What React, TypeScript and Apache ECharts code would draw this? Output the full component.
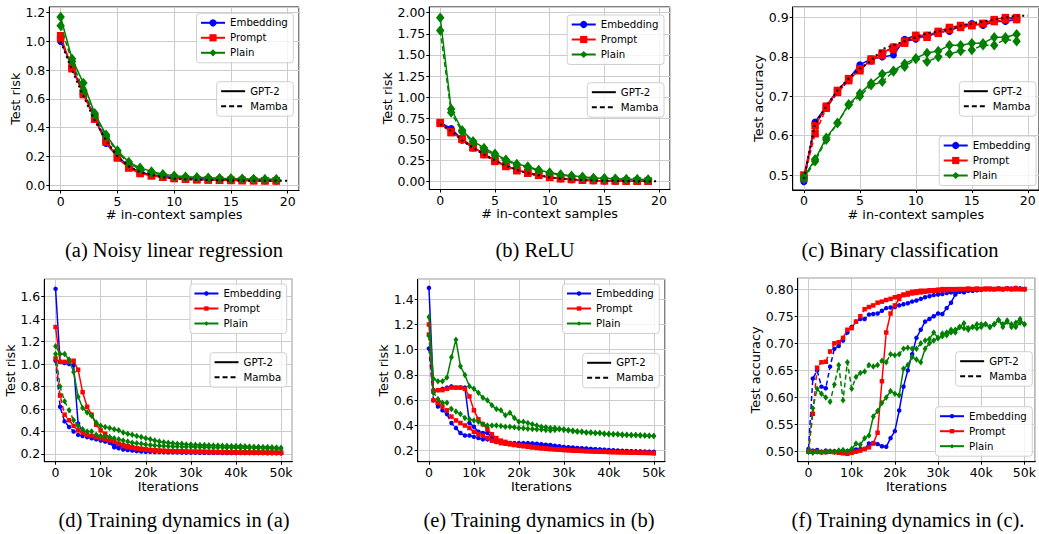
import React, { useEffect, useRef } from "react";
import * as echarts from "echarts";

// ---------- data ----------
const SAMPLES = [0, 1, 2, 3, 4, 5, 6, 7, 8, 9, 10, 11, 12, 13, 14, 15, 16, 17, 18, 19];
const SAMPLES_BASE = [0, 1, 2, 3, 4, 5, 6, 7, 8, 9, 10, 11, 12, 13, 14, 15, 16, 17, 18, 19, 20];
const ITERS_K = [
  0, 1, 2, 3, 4, 5, 6, 7, 8, 9, 10, 11, 12, 13, 14, 15, 16, 17, 18, 19, 20, 21, 22, 23, 24, 25,
  26, 27, 28, 29, 30, 31, 32, 33, 34, 35, 36, 37, 38, 39, 40, 41, 42, 43, 44, 45, 46, 47, 48, 49, 50,
];

// (a) Noisy linear regression
const A_EMB_GPT = [1.01, 0.82, 0.64, 0.47, 0.29, 0.2, 0.13, 0.09, 0.07, 0.06, 0.05, 0.045, 0.04, 0.04, 0.035, 0.035, 0.033, 0.032, 0.031, 0.03];
const A_EMB_MAM = [1.0, 0.83, 0.65, 0.48, 0.31, 0.2, 0.13, 0.09, 0.07, 0.06, 0.05, 0.045, 0.042, 0.04, 0.037, 0.035, 0.034, 0.033, 0.032, 0.031];
const A_PRM_GPT = [1.04, 0.81, 0.64, 0.46, 0.3, 0.19, 0.12, 0.08, 0.065, 0.055, 0.045, 0.04, 0.037, 0.035, 0.033, 0.032, 0.031, 0.03, 0.03, 0.029];
const A_PRM_MAM = [1.02, 0.82, 0.63, 0.46, 0.31, 0.19, 0.12, 0.085, 0.065, 0.055, 0.047, 0.042, 0.038, 0.036, 0.034, 0.033, 0.032, 0.031, 0.03, 0.03];
const A_PLN_GPT = [1.17, 0.88, 0.71, 0.5, 0.35, 0.24, 0.16, 0.12, 0.095, 0.075, 0.065, 0.058, 0.055, 0.05, 0.047, 0.045, 0.043, 0.042, 0.041, 0.04];
const A_PLN_MAM = [1.11, 0.86, 0.66, 0.49, 0.34, 0.23, 0.15, 0.11, 0.085, 0.07, 0.06, 0.055, 0.05, 0.048, 0.045, 0.043, 0.042, 0.04, 0.039, 0.038];
const A_BASE = [1.0, 0.8, 0.62, 0.45, 0.31, 0.2, 0.13, 0.09, 0.07, 0.055, 0.045, 0.04, 0.037, 0.035, 0.033, 0.032, 0.031, 0.03, 0.03, 0.03, 0.03];

// (b) ReLU
const B_EMB_GPT = [0.7, 0.63, 0.5, 0.41, 0.33, 0.25, 0.19, 0.14, 0.1, 0.075, 0.05, 0.035, 0.025, 0.018, 0.013, 0.01, 0.008, 0.007, 0.006, 0.005];
const B_EMB_MAM = [0.69, 0.62, 0.49, 0.4, 0.32, 0.25, 0.19, 0.14, 0.1, 0.073, 0.05, 0.036, 0.026, 0.019, 0.014, 0.011, 0.009, 0.008, 0.007, 0.006];
const B_PRM_GPT = [0.7, 0.58, 0.51, 0.41, 0.33, 0.25, 0.19, 0.14, 0.11, 0.08, 0.055, 0.038, 0.028, 0.02, 0.015, 0.012, 0.01, 0.008, 0.007, 0.006];
const B_PRM_MAM = [0.69, 0.59, 0.5, 0.4, 0.32, 0.24, 0.18, 0.13, 0.1, 0.075, 0.052, 0.037, 0.027, 0.02, 0.015, 0.012, 0.01, 0.008, 0.007, 0.006];
const B_PLN_GPT = [1.94, 0.86, 0.61, 0.48, 0.4, 0.33, 0.26, 0.21, 0.18, 0.14, 0.11, 0.085, 0.07, 0.06, 0.045, 0.04, 0.035, 0.03, 0.028, 0.025];
const B_PLN_MAM = [1.79, 0.82, 0.59, 0.47, 0.38, 0.31, 0.25, 0.2, 0.17, 0.13, 0.1, 0.08, 0.065, 0.05, 0.042, 0.037, 0.032, 0.028, 0.025, 0.022];
const B_BASE = [0.68, 0.6, 0.49, 0.4, 0.32, 0.25, 0.19, 0.14, 0.1, 0.075, 0.05, 0.037, 0.027, 0.02, 0.015, 0.012, 0.01, 0.008, 0.007, 0.006, 0.005];

// (c) Binary classification
const C_EMB_GPT = [0.483, 0.635, 0.675, 0.715, 0.745, 0.78, 0.795, 0.8, 0.805, 0.845, 0.855, 0.85, 0.865, 0.865, 0.88, 0.885, 0.88, 0.89, 0.89, 0.895];
const C_EMB_MAM = [0.49, 0.63, 0.67, 0.71, 0.74, 0.775, 0.79, 0.81, 0.825, 0.84, 0.845, 0.855, 0.86, 0.87, 0.875, 0.88, 0.885, 0.895, 0.895, 0.9];
const C_PRM_GPT = [0.5, 0.625, 0.675, 0.715, 0.745, 0.765, 0.795, 0.81, 0.825, 0.84, 0.855, 0.855, 0.865, 0.875, 0.88, 0.88, 0.885, 0.895, 0.9, 0.9];
const C_PRM_MAM = [0.492, 0.605, 0.67, 0.71, 0.74, 0.77, 0.79, 0.805, 0.82, 0.835, 0.85, 0.85, 0.86, 0.87, 0.875, 0.88, 0.885, 0.89, 0.895, 0.895];
const C_PLN_GPT = [0.495, 0.54, 0.595, 0.632, 0.68, 0.707, 0.733, 0.757, 0.765, 0.783, 0.797, 0.81, 0.815, 0.83, 0.83, 0.835, 0.835, 0.85, 0.85, 0.858];
const C_PLN_MAM = [0.49, 0.535, 0.59, 0.632, 0.678, 0.7, 0.728, 0.737, 0.763, 0.775, 0.795, 0.788, 0.8, 0.808, 0.815, 0.818, 0.83, 0.83, 0.845, 0.84];
const C_BASE = [0.49, 0.63, 0.675, 0.715, 0.745, 0.77, 0.79, 0.82, 0.83, 0.84, 0.85, 0.86, 0.865, 0.87, 0.88, 0.885, 0.89, 0.895, 0.9, 0.905, 0.905];

// (d) Training dynamics in (a)
const D_EMB_GPT = [
  1.67, 1.02, 1.01, 1.0, 0.99, 0.47, 0.4, 0.37, 0.35, 0.34,
  0.33, 0.32, 0.31, 0.28, 0.27, 0.26, 0.25, 0.245, 0.24, 0.235,
  0.23, 0.228, 0.226, 0.225, 0.223, 0.222, 0.221, 0.22, 0.219, 0.218,
  0.217, 0.217, 0.216, 0.216, 0.215, 0.215, 0.214, 0.214, 0.213, 0.213,
  0.212, 0.212, 0.212, 0.211, 0.211, 0.211, 0.21, 0.21, 0.21, 0.21, 0.209,
];
const D_EMB_MAM = [
  1.03, 0.62, 0.49, 0.44, 0.4, 0.37, 0.36, 0.35, 0.34, 0.33,
  0.32, 0.31, 0.3, 0.26, 0.25, 0.24, 0.235, 0.23, 0.225, 0.222,
  0.22, 0.219, 0.218, 0.217, 0.216, 0.215, 0.215, 0.214, 0.213, 0.213,
  0.212, 0.212, 0.211, 0.211, 0.21, 0.21, 0.21, 0.209, 0.209, 0.209,
  0.208, 0.208, 0.208, 0.207, 0.207, 0.207, 0.207, 0.206, 0.206, 0.206, 0.206,
];
const D_PRM_GPT = [
  1.33, 1.02, 1.02, 1.02, 1.03, 0.95, 0.75, 0.62, 0.55, 0.46,
  0.41, 0.38, 0.34, 0.31, 0.29, 0.28, 0.27, 0.26, 0.25, 0.245,
  0.24, 0.235, 0.23, 0.228, 0.226, 0.225, 0.224, 0.222, 0.221, 0.22,
  0.219, 0.218, 0.218, 0.217, 0.216, 0.216, 0.215, 0.215, 0.214, 0.214,
  0.213, 0.213, 0.213, 0.212, 0.212, 0.212, 0.211, 0.211, 0.211, 0.21, 0.21,
];
const D_PRM_MAM = [
  1.05, 0.72, 0.55, 0.5, 0.45, 0.41, 0.39, 0.37, 0.36, 0.35,
  0.34, 0.33, 0.32, 0.31, 0.29, 0.27, 0.26, 0.255, 0.25, 0.245,
  0.24, 0.235, 0.232, 0.23, 0.228, 0.226, 0.225, 0.224, 0.223, 0.222,
  0.221, 0.22, 0.22, 0.219, 0.218, 0.218, 0.217, 0.217, 0.216, 0.216,
  0.215, 0.215, 0.214, 0.214, 0.214, 0.213, 0.213, 0.213, 0.212, 0.212, 0.212,
];
const D_PLN_GPT = [
  1.16, 1.09, 1.09, 1.04, 0.93, 0.71, 0.61, 0.57, 0.54, 0.48,
  0.45, 0.44, 0.43, 0.42, 0.41, 0.39, 0.38, 0.37, 0.36, 0.35,
  0.34, 0.33, 0.32, 0.31, 0.305, 0.3, 0.295, 0.29, 0.29, 0.285,
  0.285, 0.283, 0.28, 0.28, 0.278, 0.276, 0.275, 0.274, 0.272, 0.271,
  0.27, 0.27, 0.268, 0.266, 0.265, 0.264, 0.262, 0.261, 0.26, 0.258, 0.256,
];
const D_PLN_MAM = [
  1.09, 0.8, 0.67, 0.59, 0.5, 0.45, 0.42, 0.4, 0.4, 0.37,
  0.36, 0.36, 0.35, 0.34, 0.33, 0.32, 0.31, 0.3, 0.295, 0.29,
  0.285, 0.28, 0.275, 0.272, 0.27, 0.268, 0.267, 0.266, 0.265, 0.264,
  0.263, 0.262, 0.261, 0.26, 0.259, 0.258, 0.258, 0.257, 0.256, 0.256,
  0.255, 0.254, 0.253, 0.252, 0.252, 0.251, 0.25, 0.249, 0.248, 0.247, 0.246,
];

// (e) Training dynamics in (b)
const E_EMB_GPT = [
  1.49, 0.68, 0.68, 0.69, 0.7, 0.71, 0.7, 0.7, 0.7, 0.42,
  0.39, 0.35, 0.34, 0.34, 0.3, 0.28, 0.27, 0.265, 0.26, 0.26,
  0.26, 0.26, 0.26, 0.258, 0.255, 0.252, 0.248, 0.245, 0.24, 0.235,
  0.23, 0.228, 0.225, 0.222, 0.22, 0.218, 0.215, 0.212, 0.21, 0.208,
  0.205, 0.203, 0.2, 0.198, 0.196, 0.195, 0.193, 0.192, 0.19, 0.19, 0.188,
];
const E_EMB_MAM = [
  1.01, 0.6, 0.55, 0.52, 0.49, 0.42, 0.38, 0.34, 0.32, 0.32,
  0.31, 0.3, 0.29, 0.29, 0.28, 0.27, 0.265, 0.26, 0.26, 0.258,
  0.256, 0.255, 0.254, 0.252, 0.25, 0.246, 0.242, 0.238, 0.234, 0.23,
  0.226, 0.223, 0.22, 0.218, 0.216, 0.214, 0.212, 0.21, 0.208, 0.206,
  0.204, 0.202, 0.2, 0.199, 0.198, 0.196, 0.195, 0.194, 0.193, 0.192, 0.191,
];
const E_PRM_GPT = [
  1.2, 0.67, 0.68, 0.68, 0.69, 0.7, 0.7, 0.7, 0.69, 0.63,
  0.52, 0.45, 0.41, 0.37, 0.33, 0.3, 0.28, 0.27, 0.26, 0.25,
  0.245, 0.24, 0.235, 0.23, 0.226, 0.222, 0.218, 0.215, 0.212, 0.21,
  0.207, 0.205, 0.203, 0.2, 0.199, 0.197, 0.195, 0.194, 0.193, 0.192,
  0.19, 0.189, 0.188, 0.187, 0.186, 0.185, 0.184, 0.183, 0.183, 0.182, 0.18,
];
const E_PRM_MAM = [
  1.12, 0.6, 0.58, 0.55, 0.52, 0.47, 0.44, 0.42, 0.4, 0.38,
  0.35, 0.33, 0.32, 0.3, 0.28, 0.27, 0.26, 0.255, 0.25, 0.245,
  0.24, 0.235, 0.23, 0.226, 0.222, 0.218, 0.215, 0.212, 0.21, 0.208,
  0.205, 0.203, 0.2, 0.199, 0.198, 0.196, 0.195, 0.194, 0.192, 0.191,
  0.19, 0.189, 0.188, 0.187, 0.186, 0.185, 0.185, 0.184, 0.183, 0.183, 0.182,
];
const E_PLN_GPT = [
  1.26, 0.77, 0.75, 0.75, 0.78, 0.94, 1.08, 0.87, 0.8, 0.71,
  0.69, 0.66, 0.62, 0.6, 0.56, 0.53, 0.52, 0.48, 0.5, 0.46,
  0.43, 0.43, 0.42, 0.41, 0.4, 0.39, 0.385, 0.38, 0.38, 0.375,
  0.37, 0.365, 0.36, 0.355, 0.35, 0.345, 0.345, 0.34, 0.34, 0.335,
  0.33, 0.33, 0.33, 0.325, 0.325, 0.323, 0.322, 0.32, 0.32, 0.318, 0.316,
];
const E_PLN_MAM = [
  1.11, 0.66, 0.61, 0.58, 0.58, 0.53, 0.51, 0.49, 0.46, 0.45,
  0.44, 0.43, 0.41, 0.4, 0.4, 0.4, 0.395, 0.39, 0.39, 0.385,
  0.38, 0.378, 0.375, 0.372, 0.37, 0.368, 0.365, 0.36, 0.365, 0.37,
  0.365, 0.36, 0.355, 0.35, 0.35, 0.345, 0.345, 0.34, 0.34, 0.335,
  0.335, 0.33, 0.33, 0.328, 0.326, 0.325, 0.324, 0.322, 0.32, 0.318, 0.316,
];

// (f) Training dynamics in (c)
const F_EMB_GPT = [
  0.5, 0.502, 0.503, 0.5, 0.502, 0.5, 0.501, 0.5, 0.502, 0.501,
  0.503, 0.504, 0.505, 0.505, 0.515, 0.516, 0.514, 0.51, 0.509, 0.525,
  0.538, 0.576, 0.62, 0.65, 0.68, 0.71, 0.725, 0.74, 0.745, 0.75,
  0.755, 0.754, 0.765, 0.775, 0.79, 0.795, 0.794, 0.797, 0.797, 0.798,
  0.799, 0.8, 0.8, 0.8, 0.801, 0.8, 0.801, 0.8, 0.802, 0.801, 0.8,
];
const F_EMB_MAM = [
  0.505, 0.635, 0.65, 0.62, 0.617, 0.657, 0.69, 0.695, 0.705, 0.72,
  0.73, 0.74, 0.745, 0.745, 0.753, 0.754, 0.755, 0.76, 0.765, 0.766,
  0.767, 0.77, 0.772, 0.774, 0.777, 0.779, 0.782, 0.785, 0.787, 0.789,
  0.79, 0.791, 0.793, 0.794, 0.795, 0.797, 0.797, 0.798, 0.798, 0.799,
  0.8, 0.8, 0.8, 0.8, 0.801, 0.8, 0.8, 0.801, 0.8, 0.801, 0.8,
];
const F_PRM_GPT = [
  0.5, 0.5, 0.5, 0.499, 0.499, 0.5, 0.499, 0.498, 0.497, 0.496,
  0.498, 0.5, 0.502, 0.505, 0.508, 0.515, 0.535, 0.63, 0.72, 0.755,
  0.77, 0.782, 0.79, 0.793, 0.795, 0.796, 0.797, 0.797, 0.798, 0.798,
  0.799, 0.8, 0.8, 0.8, 0.8, 0.8, 0.8, 0.801, 0.8, 0.801,
  0.8, 0.801, 0.8, 0.8, 0.801, 0.8, 0.801, 0.8, 0.802, 0.8, 0.8,
];
const F_PRM_MAM = [
  0.5, 0.57, 0.655, 0.665, 0.666, 0.685, 0.7, 0.702, 0.71, 0.725,
  0.728, 0.74, 0.75, 0.763, 0.767, 0.77, 0.775, 0.777, 0.78, 0.782,
  0.785, 0.787, 0.789, 0.79, 0.792, 0.793, 0.794, 0.795, 0.796, 0.797,
  0.797, 0.798, 0.798, 0.799, 0.799, 0.8, 0.8, 0.8, 0.8, 0.8,
  0.8, 0.8, 0.801, 0.8, 0.8, 0.8, 0.801, 0.8, 0.8, 0.8, 0.8,
];
const F_PLN_GPT = [
  0.5, 0.498, 0.5, 0.499, 0.5, 0.501, 0.5, 0.502, 0.503, 0.501,
  0.505, 0.515, 0.513, 0.525, 0.53, 0.565, 0.575, 0.59, 0.6, 0.612,
  0.607, 0.604, 0.653, 0.66, 0.675, 0.67, 0.665, 0.69, 0.7, 0.705,
  0.71, 0.713, 0.72, 0.725, 0.72, 0.73, 0.728, 0.725, 0.73, 0.728,
  0.73, 0.735, 0.73, 0.735, 0.743, 0.735, 0.742, 0.73, 0.738, 0.745, 0.735,
];
const F_PLN_MAM = [
  0.5, 0.58, 0.616, 0.607, 0.6, 0.592, 0.624, 0.66, 0.595, 0.665,
  0.616, 0.638, 0.645, 0.648, 0.66, 0.657, 0.66, 0.668, 0.665, 0.68,
  0.678, 0.68, 0.69, 0.692, 0.69, 0.69, 0.7, 0.705, 0.708, 0.72,
  0.71, 0.718, 0.715, 0.72, 0.725, 0.73, 0.737, 0.728, 0.73, 0.735,
  0.735, 0.735, 0.73, 0.735, 0.743, 0.73, 0.74, 0.735, 0.73, 0.738, 0.735,
];

const CAPTIONS = [
  "(a) Noisy linear regression",
  "(b) ReLU",
  "(c) Binary classification",
  "(d) Training dynamics in (a)",
  "(e) Training dynamics in (b)",
  "(f) Training dynamics in (c).",
];
const METHOD_NAMES = ["Embedding", "Prompt", "Plain"];
const MODEL_NAMES = ["GPT-2", "Mamba"];

// ---------- layout / styles ----------
const FONT = "DejaVu Sans";
const BLUE = "#0000ff";
const RED = "#ff0000";
const GREEN = "#008000";
const DASH = [5, 3];

type Panel = {
  grid: { left: number; top: number; width: number; height: number };
  x: [number, number, number];
  y: [number, number, number];
  yDigits: number;
  iter: boolean;
  yName: string;
  yGap: number;
  xName: string;
  xGap: number;
  sets: number[][];
  base?: number[];
  legMethods: { right: number; top: number };
  legModels: { right: number; top: number };
  caption: { x: number; y: number };
};

const PANELS: Panel[] = [
  {
    grid: { left: 49.3, top: 7, width: 249.7, height: 183.5 },
    x: [-1, 21, 5], y: [-0.038, 1.24, 0.2], yDigits: 1, iter: false,
    yName: "Test risk", yGap: 26, xName: "# in-context samples", xGap: 14,
    sets: [A_EMB_GPT, A_EMB_MAM, A_PRM_GPT, A_PRM_MAM, A_PLN_GPT, A_PLN_MAM], base: A_BASE,
    legMethods: { right: 745.7, top: 13.3 }, legModels: { right: 745.7, top: 81.7 },
    caption: { x: 174, y: 250 },
  },
  {
    grid: { left: 429.3, top: 7, width: 240.7, height: 182.5 },
    x: [-1, 21, 5], y: [-0.092, 2.067, 0.25], yDigits: 2, iter: false,
    yName: "Test risk", yGap: 35, xName: "# in-context samples", xGap: 14,
    sets: [B_EMB_GPT, B_EMB_MAM, B_PRM_GPT, B_PRM_MAM, B_PLN_GPT, B_PLN_MAM], base: B_BASE,
    legMethods: { right: 375, top: 15 }, legModels: { right: 375, top: 82.7 },
    caption: { x: 535, y: 250 },
  },
  {
    grid: { left: 792.7, top: 7, width: 248.3, height: 183 },
    x: [-1, 21, 5], y: [0.462, 0.927, 0.1], yDigits: 1, iter: false,
    yName: "Test accuracy", yGap: 26, xName: "# in-context samples", xGap: 14,
    sets: [C_EMB_GPT, C_EMB_MAM, C_PRM_GPT, C_PRM_MAM, C_PLN_GPT, C_PLN_MAM], base: C_BASE,
    legMethods: { right: 3, top: 136 }, legModels: { right: 3, top: 81.7 },
    caption: { x: 900, y: 250 },
  },
  {
    grid: { left: 44.3, top: 279.3, width: 248, height: 182.4 },
    x: [-2.5, 52.5, 10], y: [0.131, 1.755, 0.2], yDigits: 1, iter: true,
    yName: "Test risk", yGap: 26, xName: "Iterations", xGap: 15,
    sets: [D_EMB_GPT, D_EMB_MAM, D_PRM_GPT, D_PRM_MAM, D_PLN_GPT, D_PLN_MAM],
    legMethods: { right: 752.3, top: 284 }, legModels: { right: 752.3, top: 352.7 },
    caption: { x: 174, y: 519.5 },
  },
  {
    grid: { left: 417.7, top: 279.3, width: 247.3, height: 182.4 },
    x: [-2.5, 52.5, 10], y: [0.113, 1.558, 0.2], yDigits: 1, iter: true,
    yName: "Test risk", yGap: 27.5, xName: "Iterations", xGap: 15,
    sets: [E_EMB_GPT, E_EMB_MAM, E_PRM_GPT, E_PRM_MAM, E_PLN_GPT, E_PLN_MAM],
    legMethods: { right: 379.7, top: 284 }, legModels: { right: 379.7, top: 353.3 },
    caption: { x: 539, y: 519.5 },
  },
  {
    grid: { left: 797.7, top: 278.3, width: 240, height: 183.4 },
    x: [-2.5, 52.5, 10], y: [0.4815, 0.82, 0.05], yDigits: 2, iter: true,
    yName: "Test accuracy", yGap: 34, xName: "Iterations", xGap: 15,
    sets: [F_EMB_GPT, F_EMB_MAM, F_PRM_GPT, F_PRM_MAM, F_PLN_GPT, F_PLN_MAM],
    legMethods: { right: 6.7, top: 406.7 }, legModels: { right: 6.7, top: 351.7 },
    caption: { x: 908, y: 519.5 },
  },
];

const STYLES = [
  { color: BLUE, symbol: "circle", big: 7, small: 4.5 },
  { color: RED, symbol: "rect", big: 7.5, small: 4.5 },
  { color: GREEN, symbol: "diamond", big: [8.5, 10.5], small: [5, 6.5] },
];

function buildOption() {
  const grid: any[] = [];
  const xAxis: any[] = [];
  const yAxis: any[] = [];
  const series: any[] = [];
  const legend: any[] = [];
  const graphic: any[] = [];

  PANELS.forEach((p, gi) => {
    grid.push({ ...p.grid, show: true, borderColor: "#000", borderWidth: 1, containLabel: false });
    xAxis.push({
      type: "value",
      gridIndex: gi,
      min: p.x[0],
      max: p.x[1],
      minInterval: p.x[2],
      maxInterval: p.x[2],
      name: p.xName,
      nameLocation: "middle",
      nameGap: p.xGap,
      nameTextStyle: { fontFamily: FONT, fontSize: 12.8, color: "#000" },
      axisLine: { show: true, onZero: false, lineStyle: { color: "#000", width: 1 } },
      axisTick: { show: true, length: 3, lineStyle: { color: "#000", width: 1 } },
      axisLabel: {
        show: true,
        margin: 4,
        fontFamily: FONT,
        fontSize: 12.5,
        color: "#000",
        showMinLabel: false,
        showMaxLabel: false,
        formatter: (v: number) => (p.iter ? (v === 0 ? "0" : `${v}k`) : `${v}`),
      },
      splitLine: { show: true, lineStyle: { color: "#cccccc", width: 1 } },
    });
    yAxis.push({
      type: "value",
      gridIndex: gi,
      min: p.y[0],
      max: p.y[1],
      minInterval: p.y[2],
      maxInterval: p.y[2],
      name: p.yName,
      nameLocation: "middle",
      nameGap: p.yGap,
      nameTextStyle: { fontFamily: FONT, fontSize: 12.8, color: "#000" },
      axisLine: { show: true, onZero: false, lineStyle: { color: "#000", width: 1 } },
      axisTick: { show: true, length: 3, lineStyle: { color: "#000", width: 1 } },
      axisLabel: {
        show: true,
        margin: 4,
        fontFamily: FONT,
        fontSize: 12.5,
        color: "#000",
        showMinLabel: false,
        showMaxLabel: false,
        formatter: (v: number) => v.toFixed(p.yDigits),
      },
      splitLine: { show: true, lineStyle: { color: "#cccccc", width: 1 } },
    });

    const xs = p.iter ? ITERS_K : SAMPLES;
    p.sets.forEach((vals, si) => {
      const st = STYLES[Math.floor(si / 2)];
      const dashed = si % 2 === 1;
      series.push({
        type: "line",
        name: METHOD_NAMES[Math.floor(si / 2)],
        xAxisIndex: gi,
        yAxisIndex: gi,
        data: vals.map((v, i) => [xs[i], v]),
        symbol: st.symbol,
        symbolSize: p.iter ? st.small : st.big,
        color: st.color,
        itemStyle: { color: st.color },
        lineStyle: { color: st.color, width: 1.5, type: dashed ? DASH : "solid" },
        silent: true,
        emphasis: { disabled: true },
        z: 2 + si,
      });
    });
    if (p.base) {
      series.push({
        type: "line",
        name: "baseline",
        xAxisIndex: gi,
        yAxisIndex: gi,
        data: p.base.map((v, i) => [SAMPLES_BASE[i], v]),
        symbol: "none",
        color: "#000",
        lineStyle: { color: "#000", width: 2, type: [2, 3.3] },
        silent: true,
        emphasis: { disabled: true },
        z: 9,
      });
    }

    const legCommon = {
      orient: "vertical",
      selectedMode: false,
      itemGap: 3,
      padding: [3.5, 5.5, 4, 3.5],
      borderColor: "#d0d0d0",
      borderWidth: 1,
      borderRadius: 3,
      backgroundColor: "rgba(255,255,255,0.8)",
      textStyle: { fontFamily: FONT, fontSize: 10.2, color: "#000", lineHeight: 12 },
      z: 20,
    };
    legend.push({
      ...legCommon,
      right: p.legMethods.right,
      top: p.legMethods.top,
      itemWidth: 24,
      itemHeight: p.iter ? 5.5 : 9,
      data: METHOD_NAMES,
    });
    legend.push({
      ...legCommon,
      right: p.legModels.right,
      top: p.legModels.top,
      itemWidth: 24,
      itemHeight: 9,
      data: MODEL_NAMES.map((n) => ({
        name: n,
        itemStyle: { color: "rgba(0,0,0,0)", borderWidth: 0, opacity: 0 },
      })),
    });

    graphic.push({
      type: "text",
      x: p.caption.x,
      y: p.caption.y,
      silent: true,
      style: {
        text: CAPTIONS[gi],
        fontSize: 20.5,
        fontFamily: "Liberation Serif",
        fill: "#000",
        align: "center",
        verticalAlign: "middle",
        textAlign: "center",
        textVerticalAlign: "middle",
      },
    });
  });

  MODEL_NAMES.forEach((n, i) => {
    series.push({
      type: "line",
      name: n,
      xAxisIndex: 0,
      yAxisIndex: 0,
      data: [],
      symbol: "none",
      color: "#000",
      lineStyle: { color: "#000", width: 1.5, type: i === 1 ? DASH : "solid" },
      silent: true,
    });
  });

  return {
    animation: false,
    backgroundColor: "#fff",
    textStyle: { fontFamily: FONT },
    grid,
    xAxis,
    yAxis,
    series,
    legend,
    graphic,
  };
}

export default function App() {
  const ref = useRef<HTMLDivElement>(null);
  useEffect(() => {
    const chart = echarts.init(ref.current!, null, { renderer: "svg" });
    chart.setOption(buildOption() as any);
    return () => chart.dispose();
  }, []);
  return (
    <div
      ref={ref}
      style={{ position: "absolute", left: 0, top: 0, width: 1039, height: 534, background: "#fff" }}
    />
  );
}
